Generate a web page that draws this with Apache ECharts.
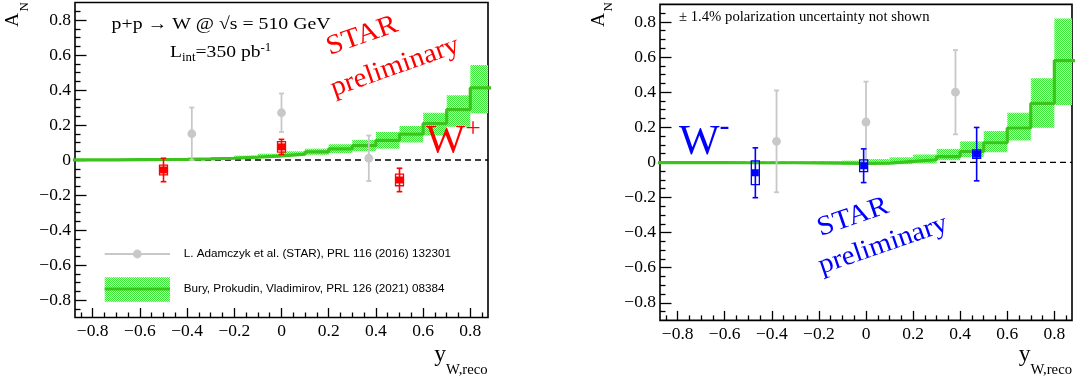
<!DOCTYPE html>
<html><head><meta charset="utf-8">
<script src="https://cdn.jsdelivr.net/npm/echarts@6/dist/echarts.min.js"></script>
<style>html,body{margin:0;padding:0;background:#fff}#c{width:1080px;height:385px}</style>
</head><body><div id="c"></div>
<script>
// ---------------- data ----------------
const binEdges = [-0.9,-0.8,-0.7,-0.6,-0.5,-0.4,-0.3,-0.2,-0.1,0,0.1,0.2,0.3,0.4,0.5,0.6,0.7,0.8,0.9];
// W+ model (Bury, Prokudin, Vladimirov)
const wpModel   = [0.001,0.001,0.002,0.003,0.004,0.006,0.010,0.016,0.024,0.034,0.046,0.064,0.082,0.112,0.148,0.208,0.288,0.412];
const wpModelLo = [-0.001,-0.001,0.000,0.000,0.001,0.002,0.004,0.008,0.014,0.022,0.030,0.040,0.050,0.065,0.100,0.140,0.190,0.267];
const wpModelHi = [0.004,0.004,0.005,0.007,0.008,0.011,0.017,0.025,0.036,0.050,0.065,0.090,0.115,0.160,0.195,0.270,0.370,0.543];
// W- model
const wmModel   = [-0.001,-0.001,-0.001,-0.002,-0.002,-0.002,-0.003,-0.004,-0.005,-0.004,0.006,0.015,0.033,0.062,0.112,0.196,0.336,0.580];
const wmModelLo = [-0.004,-0.004,-0.005,-0.005,-0.006,-0.007,-0.008,-0.010,-0.012,-0.013,-0.010,-0.006,0.013,0.030,0.058,0.125,0.198,0.327];
const wmModelHi = [0.002,0.002,0.002,0.003,0.003,0.004,0.005,0.007,0.010,0.019,0.029,0.045,0.077,0.120,0.179,0.283,0.479,0.820];
// STAR preliminary W+
const wpX = [-0.5, 0.0, 0.5];
const wpY = [-0.057, 0.075, -0.114];
const wpStat = [0.067, 0.043, 0.067];
const wpSys = [0.028, 0.030, 0.033];
// STAR preliminary W-
const wmX = [-0.47, -0.01, 0.47];
const wmY = [-0.059, -0.019, 0.047];
const wmStat = [0.142, 0.096, 0.152];
const wmSys = [0.068, 0.033, 0.024];
// L. Adamczyk et al. PRL 116 (2016)
const wpOldX = [-0.38, 0.0, 0.37];
const wpOldY = [0.15, 0.27, 0.01];
const wpOldErr = [0.15, 0.11, 0.13];
const wmOldX = [-0.38, 0.0, 0.38];
const wmOldY = [0.12, 0.23, 0.40];
const wmOldErr = [0.29, 0.23, 0.24];
// ticks
const majorTicks = [-0.8,-0.6,-0.4,-0.2,0,0.2,0.4,0.6,0.8];
const minorTicks = [-0.85,-0.75,-0.7,-0.65,-0.55,-0.5,-0.45,-0.35,-0.3,-0.25,-0.15,-0.1,-0.05,0.05,0.1,0.15,0.25,0.3,0.35,0.45,0.5,0.55,0.65,0.7,0.75,0.85];

// ---------------- style ----------------
const SERIF = '"Liberation Serif", "Times New Roman", serif';
const SANS = '"Liberation Sans", Arial, sans-serif';
const GREEN = '#3cc41c';
const GRAY = '#c8c8c8';
const X_MIN = -0.875, X_MAX = 0.875, Y_MIN = -0.9, Y_MAX = 0.9;

function makePattern() {
  const c = document.createElement('canvas'); c.width = 2; c.height = 2;
  const g = c.getContext('2d');
  g.fillStyle = '#c6f8c0'; g.fillRect(0, 0, 2, 2);
  g.fillStyle = '#3ee83a'; g.fillRect(0, 0, 1, 1); g.fillRect(1, 1, 1, 1);
  return c;
}
const PAT = { image: makePattern(), repeat: 'repeat' };

function fmt(v) {
  if (Math.abs(v) < 1e-9) return '0';
  return (v < 0 ? '\u2212' : '') + Math.abs(v).toFixed(1);
}

const grids = [
  { left: 75, top: 2.5, width: 413, height: 315 },
  { left: 660, top: 4.4, width: 412, height: 316 }
];
const gridOpt = [], xAxes = [], yAxes = [];
const noLine = { show: false, onZero: false };
grids.forEach((g, k) => {
  gridOpt.push(Object.assign({ show: true, borderColor: '#000', borderWidth: 1.6, backgroundColor: 'transparent', containLabel: false, outerBoundsMode: 'none' }, g));
  gridOpt.push(Object.assign({ show: false, containLabel: false, outerBoundsMode: 'none' }, g));
  const gi = 2 * k;
  xAxes.push({ type: 'value', gridIndex: gi, position: 'bottom', min: X_MIN, max: X_MAX, axisLine: noLine, splitLine: { show: false },
    axisTick: { show: true, inside: true, length: 9.5, customValues: majorTicks, lineStyle: { color: '#000', width: 1.3 } },
    axisLabel: { show: true, customValues: majorTicks, formatter: fmt, margin: 5, fontFamily: SERIF, fontSize: 17.5, color: '#000' } });
  xAxes.push({ type: 'value', gridIndex: gi + 1, position: 'bottom', min: X_MIN, max: X_MAX, axisLine: noLine, splitLine: { show: false },
    axisTick: { show: true, inside: true, length: 5, customValues: minorTicks, lineStyle: { color: '#000', width: 1.3 } },
    axisLabel: { show: false } });
  yAxes.push({ type: 'value', gridIndex: gi, position: 'left', min: Y_MIN, max: Y_MAX, axisLine: noLine, splitLine: { show: false },
    axisTick: { show: true, inside: true, length: 11.5, customValues: majorTicks, lineStyle: { color: '#000', width: 1.3 } },
    axisLabel: { show: true, customValues: majorTicks, formatter: fmt, margin: 4, fontFamily: SERIF, fontSize: 17.5, color: '#000' } });
  yAxes.push({ type: 'value', gridIndex: gi + 1, position: 'left', min: Y_MIN, max: Y_MAX, axisLine: noLine, splitLine: { show: false },
    axisTick: { show: true, inside: true, length: 5.5, customValues: minorTicks, lineStyle: { color: '#000', width: 1.3 } },
    axisLabel: { show: false } });
});

function clipTo(params, shape) {
  const cs = params.coordSys;
  return echarts.graphic.clipRectByRect(shape, { x: cs.x, y: cs.y, width: cs.width, height: cs.height });
}

function zeroLine(ai) {
  return { type: 'line', xAxisIndex: ai, yAxisIndex: ai, z: 1, silent: true, symbol: 'none', animation: false,
    data: [[X_MIN, 0], [X_MAX, 0]], lineStyle: { color: '#000', width: 1.3, type: [6, 4] } };
}
function bandSeries(ai, lo, hi) {
  const data = lo.map((l, i) => [binEdges[i], binEdges[i + 1], l, hi[i]]);
  return { type: 'custom', xAxisIndex: ai, yAxisIndex: ai, z: 2, silent: true, animation: false, data,
    encode: { x: [0, 1], y: [2, 3] },
    renderItem(params, api) {
      const p0 = api.coord([api.value(0), api.value(3)]);
      const p1 = api.coord([api.value(1), api.value(2)]);
      const shape = clipTo(params, { x: p0[0], y: p0[1], width: p1[0] - p0[0], height: p1[1] - p0[1] });
      return shape && { type: 'rect', shape, style: { fill: PAT } };
    } };
}
function stepSeries(ai, vals) {
  const data = [];
  vals.forEach((v, i) => { data.push([binEdges[i], v]); data.push([binEdges[i + 1], v]); });
  return { type: 'line', xAxisIndex: ai, yAxisIndex: ai, z: 3, silent: true, symbol: 'none', animation: false, clip: true,
    data, lineStyle: { color: GREEN, width: 3.2 } };
}
function oldSeries(ai, xs, ys, es) {
  const data = xs.map((x, i) => [x, ys[i], es[i]]);
  return { type: 'custom', xAxisIndex: ai, yAxisIndex: ai, z: 4, silent: true, animation: false, data,
    encode: { x: 0, y: 1 },
    renderItem(params, api) {
      const x = api.value(0), y = api.value(1), e = api.value(2);
      const c = api.coord([x, y]);
      const t = api.coord([x, y + e])[1], b = api.coord([x, y - e])[1];
      const st = { stroke: GRAY, lineWidth: 1.8 };
      return { type: 'group', children: [
        { type: 'line', shape: { x1: c[0], y1: t, x2: c[0], y2: b }, style: st },
        { type: 'line', shape: { x1: c[0] - 2.5, y1: t, x2: c[0] + 2.5, y2: t }, style: st },
        { type: 'line', shape: { x1: c[0] - 2.5, y1: b, x2: c[0] + 2.5, y2: b }, style: st },
        { type: 'circle', shape: { cx: c[0], cy: c[1], r: 4.4 }, style: { fill: GRAY } }
      ] };
    } };
}
function newSeries(ai, xs, ys, es, ss, color) {
  const data = xs.map((x, i) => [x, ys[i], es[i], ss[i]]);
  return { type: 'custom', xAxisIndex: ai, yAxisIndex: ai, z: 5, silent: true, animation: false, data,
    encode: { x: 0, y: 1 },
    renderItem(params, api) {
      const x = api.value(0), y = api.value(1), e = api.value(2), s = api.value(3);
      const c = api.coord([x, y]);
      const t = api.coord([x, y + e])[1], b = api.coord([x, y - e])[1];
      const st = api.coord([x, y + s])[1], sb = api.coord([x, y - s])[1];
      const ls = { stroke: color, lineWidth: 1.6 };
      return { type: 'group', children: [
        { type: 'line', shape: { x1: c[0], y1: t, x2: c[0], y2: b }, style: ls },
        { type: 'line', shape: { x1: c[0] - 2.8, y1: t, x2: c[0] + 2.8, y2: t }, style: ls },
        { type: 'line', shape: { x1: c[0] - 2.8, y1: b, x2: c[0] + 2.8, y2: b }, style: ls },
        { type: 'rect', shape: { x: c[0] - 4, y: st, width: 8, height: sb - st }, style: { fill: 'none', stroke: color, lineWidth: 1.3 } },
        { type: 'rect', shape: { x: c[0] - 3.5, y: c[1] - 3.5, width: 7, height: 7 }, style: { fill: color } }
      ] };
    } };
}

// ---------------- text helpers ----------------
const mctx = document.createElement('canvas').getContext('2d');
function tw(text, size, fam) { mctx.font = size + 'px ' + fam; return mctx.measureText(text).width; }
function txt(text, x, y, size, color, o) {
  o = o || {};
  return { type: 'text', x, y, rotation: o.rot || 0, scaleX: o.sx || 1, silent: true, z: 100,
    style: { text, fontSize: size, fontFamily: o.fam || SERIF, fill: color, align: o.align || 'left', verticalAlign: 'middle' } };
}
// chain of text parts: [text, size, baseline]
function chain(x, parts, color, sx, fam) {
  const out = []; let cx = x; sx = sx || 1;
  parts.forEach(p => {
    out.push(txt(p[0], cx, p[2] - 0.34 * p[1], p[1], color, { fam: fam || SERIF, sx }));
    cx += tw(p[0], p[1], fam || SERIF) * sx;
  });
  return out;
}
const R = Math.PI / 180;
const graphics = [].concat(
  // left panel annotations
  chain(111.6, [['p+p \u2192 W @ \u221As = 510 GeV', 17.5, 30.7]], '#000', 1.13),
  chain(170, [['L', 17.5, 58.3], ['int', 11.5, 61.8], ['=350 pb', 17.5, 58.3], ['-1', 11.5, 52.3]], '#000', 1.12),
  [txt('STAR', 362, 36, 27.5, '#ff0000', { align: 'center', rot: 19.5 * R, sx: 1.08 }),
   txt('preliminary', 395, 67, 27.5, '#ff0000', { align: 'center', rot: 19.5 * R, sx: 1.05 })],
  chain(425.7, [['W', 41, 155], ['+', 27, 139]], '#ff0000', 1.02),
  // legend
  [{ type: 'line', silent: true, z: 100, shape: { x1: 104.7, y1: 254, x2: 170, y2: 254 }, style: { stroke: GRAY, lineWidth: 2 } },
   { type: 'circle', silent: true, z: 101, shape: { cx: 137.3, cy: 254, r: 4.4 }, style: { fill: GRAY } },
   { type: 'rect', silent: true, z: 100, shape: { x: 104.7, y: 277.3, width: 65.3, height: 24.4 }, style: { fill: PAT } },
   { type: 'line', silent: true, z: 101, shape: { x1: 104.7, y1: 289, x2: 170, y2: 289 }, style: { stroke: GREEN, lineWidth: 3.2 } },
   txt('L. Adamczyk et al. (STAR), PRL 116 (2016) 132301', 183.7, 254, 11.7, '#000', { fam: SANS }),
   txt('Bury, Prokudin, Vladimirov, PRL 126 (2021) 08384', 183.7, 289, 11.7, '#000', { fam: SANS })],
  // axis titles left
  [txt('A', 13.3, 20, 19.5, '#000', { align: 'center', rot: 90 * R }),
   txt('N', 24.5, 6.7, 13, '#000', { align: 'center', rot: 90 * R })],
  chain(434.3, [['y', 22.5, 363], ['W,reco', 14, 375]], '#000', 1.05),
  // right panel annotations
  chain(679, [['\u00B1 1.4% polarization uncertainty not shown', 14, 21.7]], '#000', 1.05),
  chain(679, [['W', 43, 157], ['-', 30, 137]], '#0000ff', 1.0),
  [txt('STAR', 853, 217.3, 27.5, '#0000ff', { align: 'center', rot: 19 * R, sx: 1.08 }),
   txt('preliminary', 883.2, 245, 27.5, '#0000ff', { align: 'center', rot: 19 * R, sx: 1.05 })],
  [txt('A', 598.5, 20, 19.5, '#000', { align: 'center', rot: 90 * R }),
   txt('N', 608.5, 6.7, 13, '#000', { align: 'center', rot: 90 * R })],
  chain(1018.7, [['y', 22.5, 363], ['W,reco', 14, 375]], '#000', 1.05)
);

const chart = echarts.init(document.getElementById('c'), null, { renderer: 'canvas' });
chart.setOption({
  animation: false,
  backgroundColor: '#fff',
  grid: gridOpt,
  xAxis: xAxes,
  yAxis: yAxes,
  series: [
    zeroLine(0), bandSeries(0, wpModelLo, wpModelHi), stepSeries(0, wpModel),
    oldSeries(0, wpOldX, wpOldY, wpOldErr), newSeries(0, wpX, wpY, wpStat, wpSys, '#ff0000'),
    zeroLine(2), bandSeries(2, wmModelLo, wmModelHi), stepSeries(2, wmModel),
    oldSeries(2, wmOldX, wmOldY, wmOldErr), newSeries(2, wmX, wmY, wmStat, wmSys, '#0000ff')
  ],
  graphic: graphics
});
</script>
</body></html>
